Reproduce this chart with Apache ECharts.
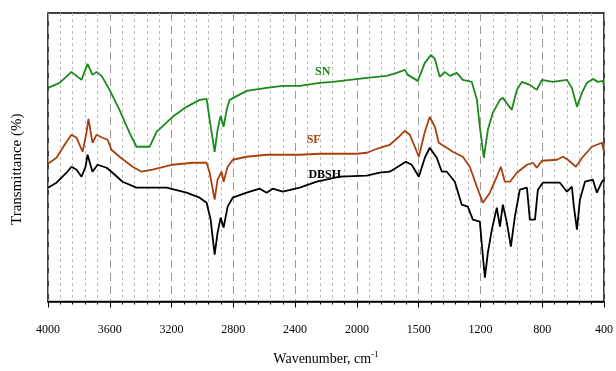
<!DOCTYPE html>
<html>
<head>
<meta charset="utf-8">
<script src="https://cdn.jsdelivr.net/npm/echarts@6/dist/echarts.min.js"></script>
<style>
  html, body { margin: 0; padding: 0; background: #fff; }
  #chart { width: 616px; height: 371px; }
</style>
</head>
<body>
<div id="chart"></div>
<script>
// wavenumber ticks (the original figure prints "1500" at the 1600 tick)
var tickValues = [4000, 3600, 3200, 2800, 2400, 2000, 1600, 1200, 800, 400];
var tickLabels = ['4000', '3600', '3200', '2800', '2400', '2000', '1500', '1200', '800', '400'];

// [wavenumber, transmittance (arbitrary units)]
var snData = [
    [4000, 214], [3925, 219], [3848, 230], [3783, 222], [3744, 238], [3712, 227],
    [3686, 230], [3653, 226], [3601, 212], [3537, 192], [3472, 169], [3427, 155],
    [3342, 155], [3297, 170], [3193, 185], [3103, 195], [3018, 202], [2973, 203],
    [2953, 182], [2921, 150], [2902, 172], [2882, 186], [2863, 175], [2843, 192],
    [2824, 202], [2714, 211], [2584, 214], [2480, 216], [2370, 216], [2241, 219],
    [2156, 220], [1936, 224], [1807, 226], [1742, 229], [1690, 232], [1670, 227],
    [1606, 221], [1560, 239], [1521, 247], [1495, 243], [1463, 225], [1431, 230],
    [1398, 226], [1353, 229], [1314, 222], [1256, 220], [1223, 202], [1204, 175],
    [1178, 144], [1152, 172], [1120, 189], [1074, 202], [1055, 204], [1022, 197],
    [997, 192], [964, 212], [932, 220], [880, 217], [835, 212], [802, 222],
    [731, 220], [640, 222], [608, 214], [575, 195], [543, 209], [511, 219],
    [472, 223], [439, 220], [407, 221], [400, 216]
];
var sfData = [
    [4000, 138], [3945, 144], [3880, 160], [3848, 167], [3815, 164], [3776, 150],
    [3751, 169], [3738, 183], [3712, 159], [3686, 167], [3647, 164], [3614, 162],
    [3589, 152], [3537, 145], [3452, 135], [3394, 130], [3323, 132], [3193, 137],
    [3064, 139], [2973, 139], [2953, 129], [2921, 102], [2902, 122], [2876, 130],
    [2863, 120], [2837, 135], [2804, 142], [2714, 145], [2584, 147], [2370, 147],
    [2241, 148], [2001, 148], [1936, 149], [1852, 154], [1787, 157], [1735, 164],
    [1690, 171], [1657, 167], [1625, 155], [1599, 145], [1560, 170], [1528, 185],
    [1495, 175], [1470, 159], [1418, 154], [1379, 150], [1314, 145], [1269, 135],
    [1223, 115], [1184, 99], [1139, 109], [1094, 125], [1068, 135], [1042, 120],
    [1009, 120], [964, 129], [899, 137], [860, 139], [835, 134], [802, 141],
    [705, 142], [666, 145], [634, 142], [582, 135], [536, 145], [478, 155],
    [446, 157], [413, 159], [400, 150]
];
var dbshData = [
    [4000, 114], [3945, 119], [3880, 129], [3848, 135], [3815, 132], [3783, 125],
    [3757, 135], [3744, 147], [3712, 130], [3679, 137], [3621, 134], [3582, 129],
    [3517, 120], [3427, 114], [3342, 114], [3232, 114], [3103, 109], [3018, 104],
    [2973, 99], [2947, 82], [2921, 47], [2902, 69], [2882, 84], [2863, 74],
    [2837, 95], [2804, 104], [2714, 109], [2629, 113], [2584, 109], [2545, 113],
    [2480, 110], [2370, 114], [2260, 120], [2111, 125], [1936, 126], [1852, 129],
    [1787, 130], [1735, 135], [1683, 140], [1645, 137], [1599, 125], [1560, 144],
    [1528, 154], [1483, 144], [1450, 130], [1418, 130], [1366, 120], [1321, 97],
    [1282, 95], [1249, 82], [1204, 80], [1184, 45], [1171, 24], [1152, 49],
    [1126, 72], [1094, 94], [1074, 75], [1055, 97], [1029, 79], [1003, 55],
    [977, 85], [945, 112], [899, 114], [880, 82], [847, 82], [828, 112],
    [796, 119], [685, 119], [640, 110], [608, 115], [595, 95], [575, 72],
    [556, 102], [523, 120], [472, 122], [446, 109], [413, 120], [400, 122]
];

// where the series names sit: [wavenumber, value]
var snLabelAt = [2221, 230];
var sfLabelAt = [2280, 162];
var dbshLabelAt = [2208, 127];

var serifFont = '"Liberation Serif", "DejaVu Serif", serif';

var makeSeries = function(name, data, color, labelAt) {
    return {
        type: 'line',
        name: name,
        data: data,
        showSymbol: false,
        lineStyle: { color: color, width: 1.8 },
        itemStyle: { color: color },
        markPoint: {
            symbol: 'circle',
            symbolSize: 1,
            itemStyle: { color: 'transparent' },
            label: {
                show: true,
                position: 'inside',
                formatter: name,
                color: color,
                fontFamily: serifFont,
                fontWeight: 'bold',
                fontSize: 12
            },
            data: [{ coord: labelAt }]
        }
    };
};

var chart = echarts.init(document.getElementById('chart'));
chart.setOption({
    animation: false,
    grid: {
        left: 48,
        right: 12,
        top: 13,
        bottom: 69,
        show: true,
        borderColor: '#000',
        borderWidth: 1.5,
        backgroundColor: 'transparent'
    },
    xAxis: {
        type: 'value',
        inverse: true,
        min: 400,
        max: 4000,
        interval: 400,
        name: '{a|Wavenumber, cm}{b|-1}',
        nameLocation: 'middle',
        nameGap: 49,
        nameTextStyle: {
            rich: {
                a: { fontFamily: serifFont, fontSize: 14, color: '#000' },
                b: { fontFamily: serifFont, fontSize: 9, color: '#000', verticalAlign: 'top', padding: [0, 0, 8, 0] }
            }
        },
        axisLine: { show: true, lineStyle: { color: '#000', width: 1.5 } },
        axisTick: { show: true, length: 6, lineStyle: { color: '#000' } },
        minorTick: { show: true, splitNumber: 5, length: 3, lineStyle: { color: '#000' } },
        axisLabel: {
            margin: 22,
            color: '#000',
            fontFamily: serifFont,
            fontSize: 12,
            formatter: function(v) {
                var i = tickValues.indexOf(v);
                return i >= 0 ? tickLabels[i] : '';
            }
        },
        splitLine: { show: true, lineStyle: { color: '#999', type: [8, 5], width: 1 } },
        minorSplitLine: { show: true, lineStyle: { color: '#bbb', type: [3, 3], width: 1 } }
    },
    yAxis: {
        type: 'value',
        min: 0,
        max: 289,
        name: 'Transmittance (%)',
        nameLocation: 'middle',
        nameGap: 23,
        nameTextStyle: { fontFamily: serifFont, fontSize: 15, color: '#000', padding: [0, 24, 0, 0] },
        axisLine: { show: false },
        axisTick: { show: false },
        axisLabel: { show: false },
        splitLine: { show: false }
    },
    series: [
        makeSeries('SN', snData, '#1a8a1a', snLabelAt),
        makeSeries('SF', sfData, '#a8400e', sfLabelAt),
        makeSeries('DBSH', dbshData, '#000000', dbshLabelAt)
    ]
});
</script>
</body>
</html>
